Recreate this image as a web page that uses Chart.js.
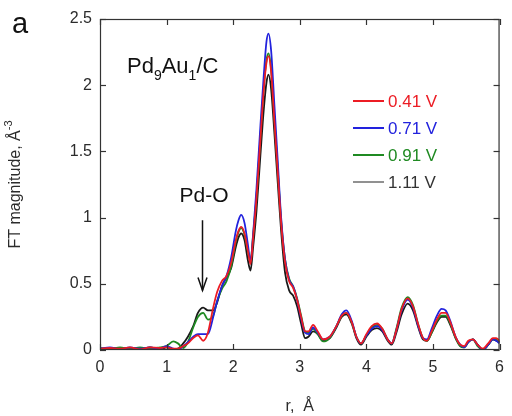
<!DOCTYPE html>
<html>
<head>
<meta charset="utf-8">
<script src="https://cdn.jsdelivr.net/npm/chart.js@4/dist/chart.umd.min.js"></script>
<style>
  html, body { margin: 0; padding: 0; background: #fff; }
  canvas { display: block; }
</style>
</head>
<body>
<canvas id="ft" width="512" height="416"></canvas>
<script>
// Radial distance r (Å) shared by all spectra
const rValues = [
  0, 0.15, 0.3, 0.45, 0.6, 0.75, 0.9, 1.0, 1.1, 1.17, 1.25, 1.32, 1.4, 1.47, 1.55, 1.62, 1.7, 1.76, 1.83, 1.9,
  1.97, 2.04, 2.08, 2.12, 2.17, 2.22, 2.26, 2.3, 2.35, 2.41, 2.46, 2.5, 2.53, 2.57, 2.62, 2.67, 2.72, 2.78, 2.84, 2.9,
  2.96, 3.02, 3.08, 3.13, 3.2, 3.27, 3.35, 3.45, 3.55, 3.63, 3.7, 3.78, 3.85, 3.92, 4.0, 4.08, 4.16, 4.24, 4.32, 4.38,
  4.45, 4.53, 4.62, 4.7, 4.78, 4.85, 4.91, 4.98, 5.06, 5.13, 5.19, 5.26, 5.34, 5.41, 5.47, 5.53, 5.6, 5.67, 5.75, 5.83,
  5.9, 5.95, 6.0
];

// FT magnitude at each potential
const ft041 = [
  0.01, 0.015, 0.01, 0.02, 0.005, 0.02, 0.015, 0.02, 0.01, 0.01, 0.03, 0.05, 0.09, 0.11, 0.07, 0.13, 0.32, 0.44, 0.52, 0.56,
  0.66, 0.83, 0.90, 0.93, 0.88, 0.75, 0.65, 0.85, 1.15, 1.60, 1.97, 2.17, 2.22, 2.10, 1.72, 1.34, 0.96, 0.66, 0.52, 0.47,
  0.38, 0.25, 0.14, 0.14, 0.19, 0.14, 0.08, 0.10, 0.18, 0.26, 0.28, 0.21, 0.10, 0.05, 0.12, 0.18, 0.20, 0.16, 0.08, 0.05,
  0.15, 0.31, 0.39, 0.33, 0.19, 0.09, 0.07, 0.14, 0.23, 0.28, 0.28, 0.21, 0.10, 0.04, 0.03, 0.07, 0.08, 0.04, 0.01, 0.05,
  0.09, 0.09, 0.07
];
const ft071 = [
  0.01, 0.02, 0.005, 0.02, 0.01, 0.02, 0.01, 0.03, 0.01, 0.0, 0.03, 0.06, 0.10, 0.12, 0.12, 0.12, 0.25, 0.37, 0.48, 0.56,
  0.70, 0.90, 0.98, 1.02, 0.96, 0.80, 0.67, 0.88, 1.22, 1.70, 2.08, 2.33, 2.39, 2.26, 1.84, 1.42, 1.00, 0.68, 0.53, 0.48,
  0.38, 0.24, 0.13, 0.12, 0.17, 0.13, 0.08, 0.10, 0.18, 0.27, 0.30, 0.22, 0.10, 0.05, 0.11, 0.16, 0.18, 0.15, 0.08, 0.05,
  0.15, 0.30, 0.38, 0.32, 0.18, 0.09, 0.08, 0.16, 0.26, 0.31, 0.30, 0.22, 0.10, 0.04, 0.02, 0.06, 0.08, 0.04, 0.0, 0.04,
  0.08, 0.07, 0.05
];
const ft091 = [
  0.015, 0.01, 0.02, 0.01, 0.02, 0.01, 0.02, 0.03, 0.065, 0.05, 0.015, 0.06, 0.17, 0.25, 0.28, 0.23, 0.26, 0.37, 0.46, 0.52,
  0.63, 0.82, 0.89, 0.92, 0.87, 0.75, 0.67, 0.87, 1.16, 1.62, 1.99, 2.19, 2.24, 2.12, 1.74, 1.36, 0.98, 0.68, 0.54, 0.48,
  0.39, 0.26, 0.14, 0.13, 0.16, 0.12, 0.065, 0.09, 0.18, 0.26, 0.28, 0.21, 0.10, 0.05, 0.11, 0.17, 0.19, 0.16, 0.08, 0.05,
  0.16, 0.32, 0.40, 0.34, 0.19, 0.09, 0.07, 0.13, 0.22, 0.26, 0.26, 0.20, 0.09, 0.03, 0.02, 0.06, 0.08, 0.03, 0.0, 0.04,
  0.08, 0.08, 0.06
];
const ft111 = [
  0.005, 0.015, 0.01, 0.015, 0.01, 0.02, 0.0, 0.02, 0.005, 0.01, 0.05, 0.10, 0.18, 0.28, 0.32, 0.30, 0.30, 0.36, 0.48, 0.55,
  0.62, 0.78, 0.85, 0.88, 0.83, 0.68, 0.60, 0.78, 1.05, 1.48, 1.82, 2.02, 2.08, 1.97, 1.63, 1.26, 0.90, 0.58, 0.45, 0.41,
  0.33, 0.20, 0.09, 0.10, 0.14, 0.12, 0.07, 0.09, 0.17, 0.25, 0.27, 0.20, 0.09, 0.04, 0.10, 0.15, 0.165, 0.14, 0.07, 0.04,
  0.13, 0.27, 0.35, 0.30, 0.17, 0.08, 0.07, 0.13, 0.21, 0.25, 0.25, 0.19, 0.09, 0.03, 0.02, 0.06, 0.08, 0.04, 0.0, 0.04,
  0.08, 0.07, 0.06
];

const seriesLabels = ['0.41 V', '0.71 V', '0.91 V', '1.11 V'];
const seriesColors = ['#ec1c24', '#2222dd', '#1f8a22', '#1a1a1a'];
const xTickLabels = ['0', '1', '2', '3', '4', '5', '6'];
const yTickLabels = ['0', '0.5', '1', '1.5', '2', '2.5'];

const FONT = '"Liberation Sans", Arial, Helvetica, sans-serif';
const TEXT = '#2b2b2b';

function toPoints(vals) {
  return rValues.map((r, i) => ({ x: r, y: vals[i] }));
}

// Frame with inward ticks on all sides, axis titles, labels, arrow and legend
const decor = {
  id: 'decor',
  afterDatasetsDraw(chart) {
    const { ctx, chartArea: a, scales: { x, y } } = chart;
    ctx.save();
    ctx.strokeStyle = '#333';
    ctx.lineWidth = 1.2;
    ctx.strokeRect(a.left + 0.5, a.top + 0.5, a.right - a.left - 1, a.bottom - a.top - 1);
    const seg = (x1, y1, x2, y2) => { ctx.beginPath(); ctx.moveTo(x1, y1); ctx.lineTo(x2, y2); ctx.stroke(); };
    x.ticks.forEach(t => {
      const p = Math.round(x.getPixelForValue(t.value)) + 0.5;
      seg(p, a.bottom, p, a.bottom - 6);
      seg(p, a.top, p, a.top + 6);
    });
    y.ticks.forEach(t => {
      const p = Math.round(y.getPixelForValue(t.value)) + 0.5;
      seg(a.left, p, a.left + 6, p);
      seg(a.right, p, a.right - 6, p);
    });

    ctx.fillStyle = '#111';
    // panel letter
    ctx.font = '29px ' + FONT;
    ctx.textAlign = 'left';
    ctx.textBaseline = 'alphabetic';
    ctx.fillText('a', 12, 33);

    // x-axis title
    ctx.font = '16px ' + FONT;
    ctx.textAlign = 'center';
    ctx.textBaseline = 'middle';
    ctx.fillStyle = TEXT;
    ctx.fillText('r,  Å', (a.left + a.right) / 2, 407);

    // y-axis title with superscript
    ctx.save();
    ctx.translate(16, (a.top + a.bottom) / 2);
    ctx.rotate(-Math.PI / 2);
    ctx.font = '16px ' + FONT;
    const main = 'FT magnitude, Å';
    const sup = '-3';
    const wMain = ctx.measureText(main).width;
    ctx.font = '11px ' + FONT;
    const wSup = ctx.measureText(sup).width;
    const start = -(wMain + wSup) / 2;
    ctx.textAlign = 'left';
    ctx.textBaseline = 'middle';
    ctx.font = '16px ' + FONT;
    ctx.fillText(main, start, 0);
    ctx.font = '11px ' + FONT;
    ctx.fillText(sup, start + wMain, -7);
    ctx.restore();

    // sample name with subscripts
    ctx.fillStyle = '#111';
    ctx.textAlign = 'left';
    ctx.textBaseline = 'alphabetic';
    let cx = 127;
    const base = 73;
    const parts = [['Pd', 0], ['9', 1], ['Au', 0], ['1', 1], ['/C', 0]];
    parts.forEach(([s, sub]) => {
      ctx.font = (sub ? '14px ' : '22px ') + FONT;
      ctx.fillText(s, cx, sub ? base + 7 : base);
      cx += ctx.measureText(s).width;
    });

    // Pd-O marker
    ctx.font = '21px ' + FONT;
    ctx.textAlign = 'center';
    ctx.textBaseline = 'middle';
    ctx.fillText('Pd-O', 204, 196);
    const ax = Math.round(x.getPixelForValue(1.53)) + 0.5;
    const yTop = y.getPixelForValue(0.98);
    const yTip = y.getPixelForValue(0.45);
    ctx.strokeStyle = '#111';
    ctx.lineWidth = 1.5;
    seg(ax, yTop, ax, yTip);
    ctx.beginPath();
    ctx.moveTo(ax - 4.5, yTip - 13);
    ctx.lineTo(ax, yTip);
    ctx.lineTo(ax + 4.5, yTip - 13);
    ctx.stroke();

    // legend
    ctx.font = '17px ' + FONT;
    ctx.textAlign = 'left';
    ctx.textBaseline = 'middle';
    chart.data.datasets.forEach((ds, i) => {
      const ry = 101 + i * 27;
      ctx.strokeStyle = i === 3 ? '#555' : ds.borderColor;
      ctx.lineWidth = i === 3 ? 1.3 : 2;
      seg(353, ry, 384, ry);
      ctx.fillStyle = i === 3 ? '#333' : ds.borderColor;
      ctx.fillText(ds.label, 388, ry + 1);
    });
    ctx.restore();
  }
};

const allSeries = [ft041, ft071, ft091, ft111];

new Chart(document.getElementById('ft'), {
  type: 'line',
  data: {
    datasets: allSeries.map((vals, i) => ({
      label: seriesLabels[i],
      data: toPoints(vals),
      borderColor: seriesColors[i],
      borderWidth: 1.8,
      pointRadius: 0,
      fill: false,
      cubicInterpolationMode: 'monotone'
    }))
  },
  options: {
    responsive: false,
    animation: false,
    devicePixelRatio: 1,
    layout: { padding: { top: 19, right: 3, left: 0, bottom: 0 } },
    plugins: { legend: { display: false }, tooltip: { enabled: false } },
    scales: {
      x: {
        type: 'linear',
        min: 0, max: 6,
        grid: { display: false, drawTicks: false },
        border: { display: false },
        ticks: {
          stepSize: 1,
          padding: 8,
          color: TEXT,
          font: { size: 16, family: FONT },
          callback: (v, i) => xTickLabels[i]
        },
        afterFit: s => { s.height = 66; }
      },
      y: {
        min: 0, max: 2.5,
        grid: { display: false, drawTicks: false },
        border: { display: false },
        ticks: {
          stepSize: 0.5,
          padding: 8,
          color: TEXT,
          font: { size: 16, family: FONT },
          callback: (v, i) => yTickLabels[i]
        },
        afterFit: s => { s.width = 100; }
      }
    }
  },
  plugins: [decor]
});
</script>
</body>
</html>
